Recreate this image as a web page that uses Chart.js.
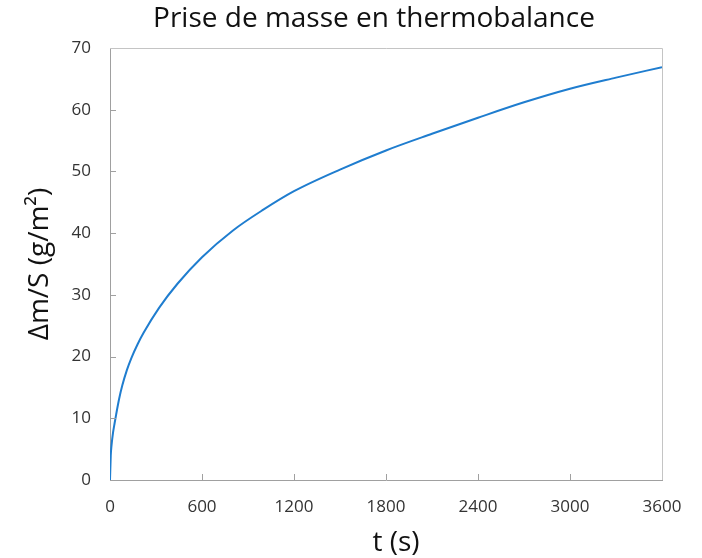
<!DOCTYPE html>
<html>
<head>
<meta charset="utf-8">
<script src="https://cdn.jsdelivr.net/npm/chart.js@4.4.1/dist/chart.umd.min.js"></script>
<style>
  html, body { margin: 0; padding: 0; background: #fff; }
  #wrap { width: 702px; height: 558px; }
</style>
</head>
<body>
<div id="wrap"><canvas id="chart" width="702" height="558"></canvas></div>
<script>
// values
const times = [0, 5, 10, 20, 30, 40, 60, 80, 110, 140, 180, 220, 320, 440, 600, 800, 1000, 1200, 1500, 1800, 2100, 2400, 2700, 3000, 3300, 3600];
const massGain = [0, 4.0, 5.6, 7.7, 9.2, 10.6, 13.2, 15.3, 17.8, 19.8, 22.0, 23.9, 27.9, 31.8, 36.1, 40.4, 43.8, 46.8, 50.3, 53.4, 56.1, 58.7, 61.2, 63.4, 65.2, 66.9];
const xTicks = [0, 600, 1200, 1800, 2400, 3000, 3600];
const yTicks = [0, 10, 20, 30, 40, 50, 60, 70];

const chartTitle = 'Prise de masse en thermobalance';
const xTitle = 't (s)';
const yTitle = 'Δm/S (g/m²)';

const FONT = "'Open Sans', 'Noto Sans', sans-serif";

// frame, inward tick marks and the text titles
const frameTicks = {
  id: 'frameTicks',
  afterDraw(chart) {
    const { ctx, chartArea: a, scales } = chart;
    ctx.save();
    ctx.lineWidth = 1;
    ctx.strokeStyle = '#c4c4c4';
    ctx.beginPath();
    ctx.moveTo(a.left, a.top + 0.5);
    ctx.lineTo(a.right + 0.5, a.top + 0.5);
    ctx.lineTo(a.right + 0.5, a.bottom);
    ctx.stroke();

    ctx.strokeStyle = '#a0a0a0';
    ctx.beginPath();
    xTicks.forEach(v => {
      if (v === 0 || v === 3600) return;
      const px = Math.round(scales.x.getPixelForValue(v)) + 0.5;
      ctx.moveTo(px, a.bottom);
      ctx.lineTo(px, a.bottom - 6);
    });
    yTicks.forEach(v => {
      if (v === 0 || v === 70) return;
      const py = Math.round(scales.y.getPixelForValue(v)) + 0.5;
      ctx.moveTo(a.left, py);
      ctx.lineTo(a.left + 6, py);
    });
    ctx.stroke();

    ctx.fillStyle = '#111';
    ctx.textAlign = 'center';
    ctx.textBaseline = 'middle';
    ctx.font = '28px ' + FONT;
    ctx.fillText(chartTitle, 374, 19);
    ctx.fillText(xTitle, 396, 543);
    ctx.translate(40, (a.top + a.bottom) / 2);
    ctx.rotate(-Math.PI / 2);
    ctx.fillText(yTitle, 0, 0);
    ctx.restore();
  }
};

const data = {
  datasets: [{
    label: 'Δm/S',
    data: times.map((t, i) => ({ x: t, y: massGain[i] })),
    borderColor: '#1f7dcf',
    borderWidth: 2,
    pointRadius: 0,
    fill: false,
    cubicInterpolationMode: 'monotone',
    showLine: true
  }]
};

new Chart(document.getElementById('chart'), {
  type: 'scatter',
  data,
  options: {
    responsive: false,
    animation: false,
    layout: { padding: { left: 0, right: 40, top: 48, bottom: 0 } },
    plugins: {
      legend: { display: false },
      tooltip: { enabled: false },
      title: { display: false }
    },
    scales: {
      x: {
        type: 'linear',
        min: 0,
        max: 3600,
        afterBuildTicks: s => { s.ticks = xTicks.map(v => ({ value: v })); },
        afterFit: s => { s.height = 78; },
        grid: { display: false, drawTicks: false },
        border: { display: true, color: '#a0a0a0', width: 1 },
        ticks: {
          color: '#333', padding: 17, maxRotation: 0,
          font: { family: FONT, size: 17 },
          callback: v => String(v)
        }
      },
      y: {
        min: 0,
        max: 70,
        afterBuildTicks: s => { s.ticks = yTicks.map(v => ({ value: v })); },
        afterFit: s => { s.width = 110; },
        grid: { display: false, drawTicks: false },
        border: { display: true, color: '#a0a0a0', width: 1 },
        ticks: {
          color: '#333', padding: 19,
          font: { family: FONT, size: 17 },
          callback: v => String(v)
        }
      }
    }
  },
  plugins: [frameTicks]
});
</script>
</body>
</html>
